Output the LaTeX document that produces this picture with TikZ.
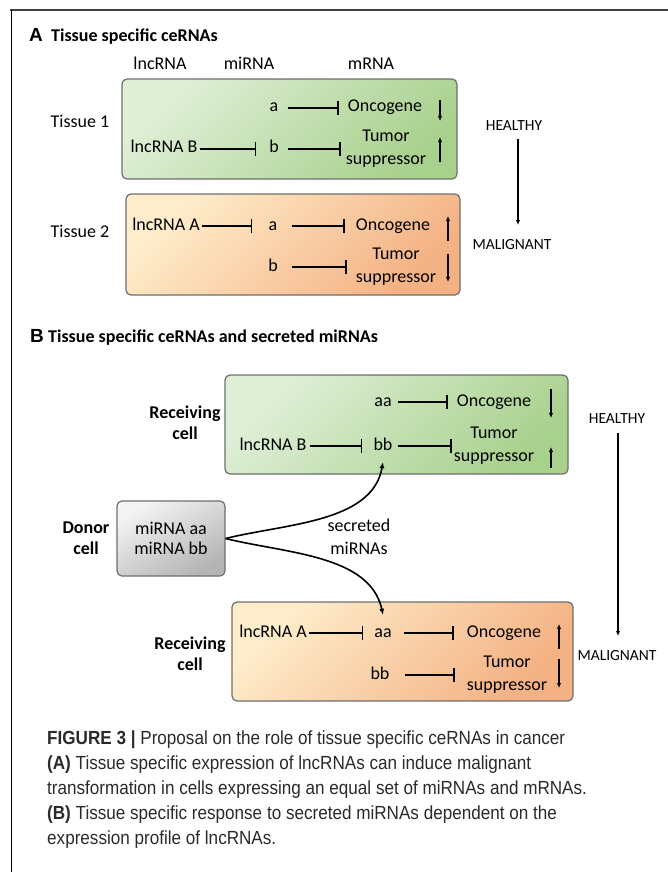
\documentclass[tikz,border=0pt]{standalone}
\usepackage{fontspec}
\setmainfont{Carlito}
\newfontfamily\letfont{Liberation Sans}
\newfontfamily\capfont[FakeStretch=0.9]{Liberation Sans}
\usetikzlibrary{arrows.meta,positioning}

\definecolor{greenlo}{HTML}{DFEFD7}
\definecolor{greenhi}{HTML}{A9D18E}
\definecolor{orangelo}{HTML}{FEEDCB}
\definecolor{orangehi}{HTML}{F4B183}
\definecolor{greylo}{HTML}{F4F4F4}
\definecolor{greyhi}{HTML}{B4B4B4}
\definecolor{boxline}{HTML}{6E6E6E}
\definecolor{captext}{HTML}{2A2A2A}

\tikzset{
  lbl/.style={inner sep=0pt, font=\fontsize{18}{22}\selectfont, text height=12pt, text depth=4pt},
  twoline/.style={inner sep=0pt, font=\fontsize{18}{23}\selectfont, align=center},
  side/.style={inner sep=0pt, font=\fontsize{15.5}{18}\selectfont, text height=10pt, text depth=0pt},
  celltitle/.style={inner sep=0pt, font=\bfseries\fontsize{18}{21}\selectfont, align=center},
  paneltitle/.style={inner sep=0pt, anchor=base west, font=\bfseries\fontsize{18}{21}\selectfont},
  panelletter/.style={inner sep=0pt, anchor=base west, font=\letfont\bfseries\fontsize{19}{21}\selectfont},
  cellbox/.style={draw=boxline, line width=1.2pt, rounded corners=5pt, inner sep=0pt},
  greenbox/.style={cellbox, top color=greenlo, bottom color=greenhi, shading angle=45},
  orangebox/.style={cellbox, top color=orangelo, bottom color=orangehi, shading angle=45},
  donorbox/.style={cellbox, top color=greylo, bottom color=greyhi, shading angle=30, align=center, font=\fontsize{18}{20}\selectfont},
  inh/.style={line width=1.5pt, -{Bar[width=14pt]}, shorten <=9pt, shorten >=9pt},
  inhl/.style={line width=1.5pt, -{Bar[width=14pt]}, shorten <=2pt, shorten >=13pt},
  ind/.style={line width=1.6pt, -{Latex[length=5pt,width=4.5pt]}},
  state/.style={line width=1.2pt, -{Latex[length=5pt,width=4.5pt]}, shorten <=5pt, shorten >=5pt},
  secr/.style={line width=1.6pt, -{Latex[length=6pt,width=5pt]}},
  capline/.style={anchor=base west, inner sep=0pt, text=captext, font=\capfont\fontsize{19}{25}\selectfont}
}

\begin{document}
\begin{tikzpicture}[x=1pt,y=-1pt]
\useasboundingbox (0,0) rectangle (668,872);
% frame
\draw[line width=2.5pt, black!75] (10,10) -- (668,10);
\draw[line width=1pt] (11,10) -- (11,872);

% panel A
\node[panelletter] (letA) at (29,42) {A};
\node[paneltitle] (titleA) at (51,42) {Tissue specific ceRNAs};
\node[lbl] (hlnc) at (160,66) {lncRNA};
\node[lbl] (hmi) at (249,66) {miRNA};
\node[lbl] (hm) at (371,66) {mRNA};

\node[greenbox, minimum width=335pt, minimum height=100pt] (tis1) at (289.5,129) {};
\node[orangebox, minimum width=334pt, minimum height=101pt] (tis2) at (293,244.5) {};
\node[lbl] (t1) at (80,124) {Tissue 1};
\node[lbl] (t2) at (80,233) {Tissue 2};

% tissue 1
\node[lbl] (a1) at (274,108) {a};
\node[lbl] (onc1) at (385,108) {Oncogene};
\node[lbl] (lncB1) at (164,149) {lncRNA B};
\node[lbl] (b1) at (274,149) {b};
\node[twoline] (ts1) at (386,149) {Tumor\\suppressor};
\draw[inh] (a1) -- (onc1);
\draw[inhl] (lncB1) -- (b1);
\draw[inh, shorten >=5pt] (b1) -- (b1 -| ts1.west);
\draw[ind] (440,100) -- (440,121);
\draw[ind] (440,162) -- (440,137);

% tissue 2
\node[lbl] (lncA2) at (166,226) {lncRNA A};
\node[lbl] (a2) at (273,226) {a};
\node[lbl] (onc2) at (393,226) {Oncogene};
\node[lbl] (b2) at (273,267) {b};
\node[twoline] (ts2) at (396,267) {Tumor\\suppressor};
\draw[inhl, shorten >=16pt] (lncA2) -- (a2);
\draw[inh, shorten <=14pt, shorten >=11pt] (a2) -- (onc2);
\draw[inh, shorten <=14pt, shorten >=9pt] (b2) -- (b2 -| ts2.west);
\draw[ind] (448,241) -- (448,216);
\draw[ind] (448,254) -- (448,282);

\node[side] (healA) at (514,125) {HEALTHY};
\node[side] (malA) at (512,244) {MALIGNANT};
\draw[state] (518,134) -- (518,230);

% panel B
\node[panelletter] (letB) at (30,342) {B};
\node[paneltitle] (titleB) at (48,342) {Tissue specific ceRNAs and secreted miRNAs};

\node[greenbox, minimum width=343pt, minimum height=99pt] (rec1) at (396.5,424.5) {};
\node[orangebox, minimum width=341pt, minimum height=99pt] (rec2) at (402.5,651.5) {};
\node[donorbox, minimum width=108pt, minimum height=75pt] (donor) at (171,538.5) {miRNA aa\\miRNA bb};

\node[celltitle] (rc1) at (185,423) {Receiving\\cell};
\node[celltitle] (rc2) at (190,654) {Receiving\\cell};
\node[celltitle] (dc) at (86,538) {Donor\\cell};

% receiving cell 1
\node[lbl] (aa1) at (383,402) {aa};
\node[lbl] (oncB1) at (494,402) {Oncogene};
\node[lbl] (lncB) at (273,446) {lncRNA B};
\node[lbl] (bb1) at (383,446) {bb};
\node[twoline] (tsB1) at (494,446) {Tumor\\suppressor};
\draw[inh, shorten <=6pt] (aa1) -- (oncB1);
\draw[inhl, shorten <=3pt, shorten >=11pt] (lncB) -- (bb1);
\draw[inh, shorten <=5pt, shorten >=2pt] (bb1) -- (bb1 -| tsB1.west);
\draw[ind] (551,389) -- (551,418);
\draw[ind] (551,468) -- (551,447);

% receiving cell 2
\node[lbl] (lncA) at (273,633) {lncRNA A};
\node[lbl] (aa2) at (383,633) {aa};
\node[lbl] (oncB2) at (504,633) {Oncogene};
\node[lbl] (bb2) at (380,675) {bb};
\node[twoline] (tsB2) at (507,675) {Tumor\\suppressor};
\draw[inhl, shorten <=2pt, shorten >=11pt] (lncA) -- (aa2);
\draw[inh, shorten <=12pt, shorten >=13pt] (aa2) -- (oncB2);
\draw[inh, shorten <=15pt, shorten >=12pt] (bb2) -- (bb2 -| tsB2.west);
\draw[ind] (559,649) -- (559,624);
\draw[ind] (559,659) -- (559,688);

\node[side] (healB) at (617,418) {HEALTHY};
\node[side] (malB) at (617,655) {MALIGNANT};
\draw[state] (618,428) -- (618,641);

% secreted miRNAs
\node[twoline] (sec) at (359,537) {secreted\\miRNAs};
\draw[secr] (donor.east) to[out=14, in=-100, looseness=0.9] ([yshift=-8pt]bb1.south);
\draw[secr] (donor.east) to[out=-14, in=102, looseness=0.9] ([yshift=10pt]aa2.north);

% caption
\node[capline] (cap1) at (47,744) {\textbf{FIGURE 3 |} Proposal on the role of tissue specific ceRNAs in cancer};
\node[capline] (cap2) at (47,769) {\textbf{(A)} Tissue specific expression of lncRNAs can induce malignant};
\node[capline] (cap3) at (47,794) {transformation in cells expressing an equal set of miRNAs and mRNAs.};
\node[capline] (cap4) at (47,819) {\textbf{(B)} Tissue specific response to secreted miRNAs dependent on the};
\node[capline] (cap5) at (47,844) {expression profile of lncRNAs.};
\end{tikzpicture}
\end{document}
